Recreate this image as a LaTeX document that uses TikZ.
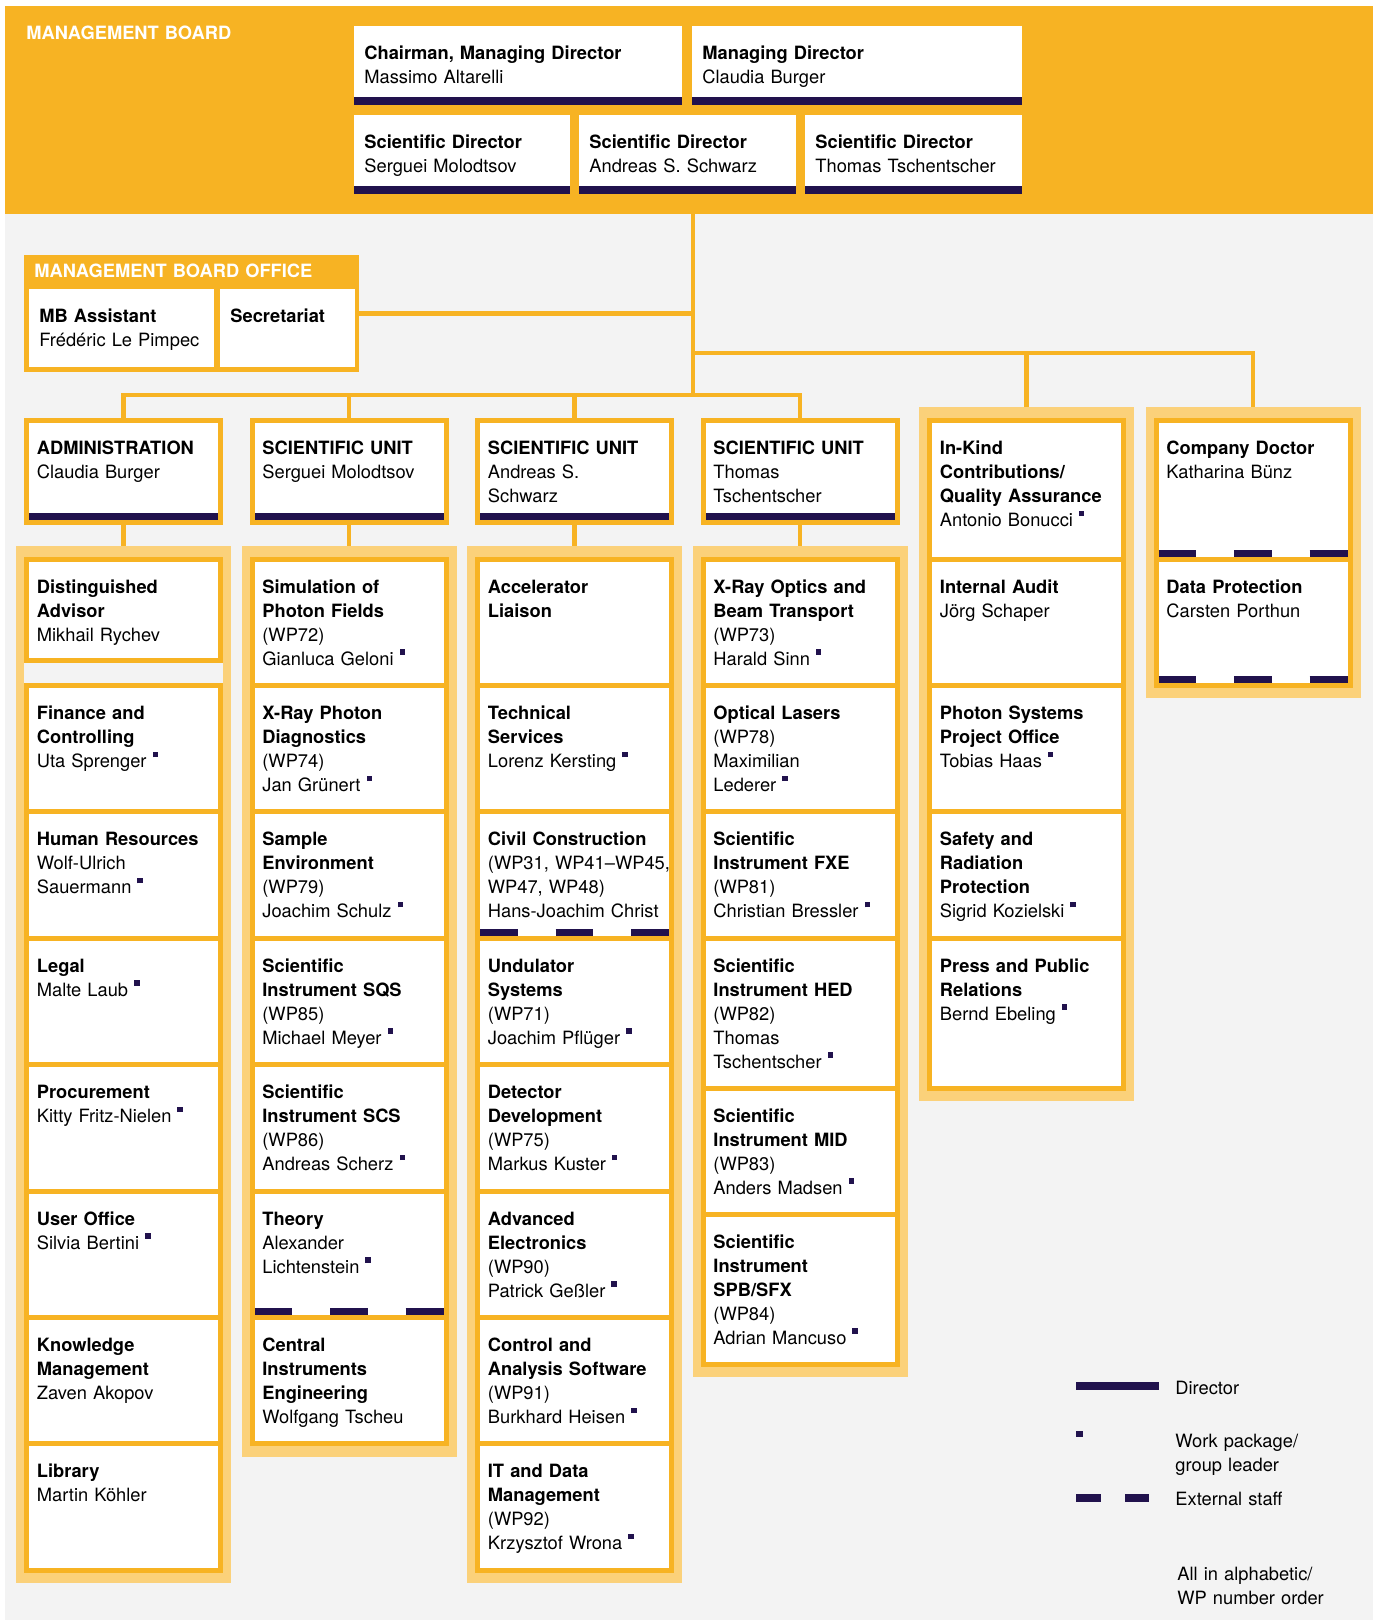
\documentclass[tikz,border=0pt]{standalone}
\usepackage{fontspec}
\setmainfont{TeX Gyre Heros}
\usetikzlibrary{backgrounds, fit, positioning}

\definecolor{xorange}{RGB}{247,179,35}
\definecolor{xlight}{RGB}{251,209,122}
\definecolor{xdark}{RGB}{33,18,77}
\definecolor{xgray}{RGB}{243,243,243}

\newcommand{\wpmark}{\hspace{3pt}\textcolor{xdark}{\rule[5.2pt]{2.7pt}{2.7pt}}}

\begin{document}
\begin{tikzpicture}[x=0.5pt, y=-0.5pt,
		link/.style={draw=xorange, line width=2.3pt},
		cell/.style={draw=xorange, line width=2.5pt, fill=white, minimum width=97pt, inner sep=0, outer sep=0, anchor=north west},
		plain/.style={fill=white, inner sep=0, outer sep=0, anchor=north west},
		celltext/.style={anchor=base west, align=left, text width=200pt, inner sep=0, font=\fontsize{9.15}{12}\selectfont},
		hdtext/.style={celltext, text=white, font=\fontsize{9.15}{12}\selectfont\bfseries},
		colbg/.style={fill=xlight, inner xsep=5.25pt, inner ysep=6.5pt, outer sep=0},
		dirbar/.style={fill=xdark},
		extbar/.style={draw=xdark, line width=3.5pt, dash pattern=on 18.9pt off 18.9pt}]
		\def\orgcell#1#2#3#4{%
			\node[cell, minimum height=#3*0.5pt] (#1) at (#2) {};
			\node[celltext] (#1-t) at ([shift={(10,34)}]#1.north west) {#4};
		}
		\def\boardcell#1#2#3#4{%
			\node[plain, minimum width=#3*0.5pt, minimum height=39.5pt] (#1) at (#2) {};
			\node[celltext] (#1-t) at ([shift={(10,34)}]#1.north west) {#4};
			\fill[dirbar] ([shift={(0,-8)}]#1.south west) rectangle (#1.south east);
		}
		\def\dirline#1{\fill[dirbar] ([shift={(2.5,-9.5)}]#1.south west) rectangle ([shift={(-2.5,-2.5)}]#1.south east);}
		\def\extline#1{\draw[extbar] ([shift={(2.5,-6)}]#1.south west) -- ([shift={(-2.5,-6)}]#1.south east);}

		\useasboundingbox (0,0) rectangle (1373,1620);
		\begin{scope}[on background layer]
			\fill[xgray] (5,214) rectangle (1373,1620);
		\end{scope}

		% management board
		\node[fill=xorange, inner sep=0, outer sep=0, minimum width=684pt, minimum height=104pt, anchor=north west] (board) at (5,6) {};
		\node[hdtext] (board-t) at (26,40) {MANAGEMENT BOARD};
		\boardcell{chair}{354,26}{328}{\textbf{Chairman, Managing Director}\\Massimo Altarelli}
		\boardcell{md}{692,26}{330}{\textbf{Managing Director}\\Claudia Burger}
		\boardcell{sd1}{354,115}{216}{\textbf{Scientific Director}\\Serguei Molodtsov}
		\boardcell{sd2}{579,115}{217}{\textbf{Scientific Director}\\Andreas S. Schwarz}
		\boardcell{sd3}{805,115}{217}{\textbf{Scientific Director}\\Thomas Tschentscher}

		% office
		\node[fill=xorange, inner sep=0, outer sep=0, minimum width=167.5pt, minimum height=58.5pt, anchor=north west] (office) at (24,255) {};
		\node[hdtext] (office-t) at (34,278) {MANAGEMENT BOARD OFFICE};
		\node[plain, minimum width=92.5pt, minimum height=39pt] (mbasst) at (29,289) {};
		\node[celltext] (mbasst-t) at ([shift={(10,34)}]mbasst.north west) {\textbf{MB Assistant}\\Frédéric Le Pimpec};
		\node[plain, minimum width=67.5pt, minimum height=39pt] (secr) at (220,289) {};
		\node[celltext] (secr-t) at ([shift={(10,34)}]secr.north west) {\textbf{Secretariat}};

		% unit heads
		\orgcell{adm}{26.5,420.5}{102}{\textbf{ADMINISTRATION}\\Claudia Burger}
		\orgcell{su1}{252,420.5}{102}{\textbf{SCIENTIFIC UNIT}\\Serguei Molodtsov}
		\orgcell{su2}{477.5,420.5}{102}{\textbf{SCIENTIFIC UNIT}\\Andreas S.\\Schwarz}
		\orgcell{su3}{703,420.5}{102}{\textbf{SCIENTIFIC UNIT}\\Thomas\\Tschentscher}
		\foreach \u in {adm, su1, su2, su3} {\dirline{\u}}

		% administration
		\orgcell{a1}{26.5,559}{101.5}{\textbf{Distinguished\\Advisor}\\Mikhail Rychev}
		\orgcell{a2}{26.5,685.4}{126.4}{\textbf{Finance and\\Controlling}\\Uta Sprenger\wpmark}
		\orgcell{a3}{a2.south west}{126.4}{\textbf{Human Resources}\\Wolf-Ulrich\\Sauermann\wpmark}
		\orgcell{a4}{a3.south west}{126.4}{\textbf{Legal}\\Malte Laub\wpmark}
		\orgcell{a5}{a4.south west}{126.4}{\textbf{Procurement}\\Kitty Fritz-Nielen\wpmark}
		\orgcell{a6}{a5.south west}{126.4}{\textbf{User Office}\\Silvia Bertini\wpmark}
		\orgcell{a7}{a6.south west}{126.4}{\textbf{Knowledge\\Management}\\Zaven Akopov}
		\orgcell{a8}{a7.south west}{126.4}{\textbf{Library}\\Martin Köhler}

		% scientific unit 1
		\orgcell{s1}{252,559}{126.4}{\textbf{Simulation of\\Photon Fields}\\(WP72)\\Gianluca Geloni\wpmark}
		\orgcell{s2}{s1.south west}{126.4}{\textbf{X-Ray Photon\\Diagnostics}\\(WP74)\\Jan Grünert\wpmark}
		\orgcell{s3}{s2.south west}{126.4}{\textbf{Sample\\Environment}\\(WP79)\\Joachim Schulz\wpmark}
		\orgcell{s4}{s3.south west}{126.4}{\textbf{Scientific\\Instrument SQS}\\(WP85)\\Michael Meyer\wpmark}
		\orgcell{s5}{s4.south west}{126.4}{\textbf{Scientific\\Instrument SCS}\\(WP86)\\Andreas Scherz\wpmark}
		\orgcell{s6}{s5.south west}{126.4}{\textbf{Theory}\\Alexander\\Lichtenstein\wpmark}
		\orgcell{s7}{s6.south west}{126.4}{\textbf{Central\\Instruments\\Engineering}\\Wolfgang Tscheu}

		% scientific unit 2
		\orgcell{t1}{477.5,559}{126.4}{\textbf{Accelerator\\Liaison}}
		\orgcell{t2}{t1.south west}{126.4}{\textbf{Technical\\Services}\\Lorenz Kersting\wpmark}
		\orgcell{t3}{t2.south west}{126.4}{\textbf{Civil Construction}\\(WP31, WP41–WP45,\\WP47, WP48)\\Hans-Joachim Christ}
		\orgcell{t4}{t3.south west}{126.4}{\textbf{Undulator\\Systems}\\(WP71)\\Joachim Pflüger\wpmark}
		\orgcell{t5}{t4.south west}{126.4}{\textbf{Detector\\Development}\\(WP75)\\Markus Kuster\wpmark}
		\orgcell{t6}{t5.south west}{126.4}{\textbf{Advanced\\Electronics}\\(WP90)\\Patrick Geßler\wpmark}
		\orgcell{t7}{t6.south west}{126.4}{\textbf{Control and\\Analysis Software}\\(WP91)\\Burkhard Heisen\wpmark}
		\orgcell{t8}{t7.south west}{126.4}{\textbf{IT and Data\\Management}\\(WP92)\\Krzysztof Wrona\wpmark}

		% scientific unit 3
		\orgcell{x1}{703,559}{126.4}{\textbf{X-Ray Optics and\\Beam Transport}\\(WP73)\\Harald Sinn\wpmark}
		\orgcell{x2}{x1.south west}{126.4}{\textbf{Optical Lasers}\\(WP78)\\Maximilian\\Lederer\wpmark}
		\orgcell{x3}{x2.south west}{126.4}{\textbf{Scientific\\Instrument FXE}\\(WP81)\\Christian Bressler\wpmark}
		\orgcell{x4}{x3.south west}{149.8}{\textbf{Scientific\\Instrument HED}\\(WP82)\\Thomas\\Tschentscher\wpmark}
		\orgcell{x5}{x4.south west}{126}{\textbf{Scientific\\Instrument MID}\\(WP83)\\Anders Madsen\wpmark}
		\orgcell{x6}{x5.south west}{150}{\textbf{Scientific\\Instrument\\SPB/SFX}\\(WP84)\\Adrian Mancuso\wpmark}

		% staff units
		\orgcell{k1}{929.5,420.5}{138.5}{\textbf{In-Kind\\Contributions/\\Quality Assurance}\\Antonio Bonucci\wpmark}
		\orgcell{k2}{k1.south west}{126.4}{\textbf{Internal Audit}\\Jörg Schaper}
		\orgcell{k3}{k2.south west}{126.4}{\textbf{Photon Systems\\Project Office}\\Tobias Haas\wpmark}
		\orgcell{k4}{k3.south west}{126.4}{\textbf{Safety and\\Radiation\\Protection}\\Sigrid Kozielski\wpmark}
		\orgcell{k5}{k4.south west}{149.8}{\textbf{Press and Public\\Relations}\\Bernd Ebeling\wpmark}
		\orgcell{d1}{1156,420.5}{138.5}{\textbf{Company Doctor}\\Katharina Bünz}
		\orgcell{d2}{d1.south west}{126.4}{\textbf{Data Protection}\\Carsten Porthun}
		\foreach \e in {s6, t3, d1, d2} {\extline{\e}}

		\begin{scope}[on background layer]
			\node[colbg, fit=(a1)(a8)] (bgadm) {};
			\node[colbg, fit=(s1)(s7)] (bgsu1) {};
			\node[colbg, fit=(t1)(t8)] (bgsu2) {};
			\node[colbg, fit=(x1)(x6)] (bgsu3) {};
			\node[colbg, fit=(k1)(k5)] (bgkind) {};
			\node[colbg, fit=(d1)(d2)] (bgdoc) {};
			\fill[xgray] ([shift={(-2.5,0)}]a1.south west) rectangle ([shift={(2.5,0)}]a2.north east);
		\end{scope}

		% connectors
		\coordinate (trunk) at (693,214);
		\coordinate (hub) at (693,395);
		\coordinate (rjoin) at (693,353);
		\draw[link] (trunk) -- (hub);
		\draw[link] (office.east) -- (office.east -| trunk);
		\draw[link] (rjoin) -| (bgdoc.north);
		\draw[link] (bgkind.north) -- (bgkind.north |- rjoin);
		\draw[link] (adm.north) |- (hub) -| (su3.north);
		\draw[link] (su1.north) -- (su1.north |- hub);
		\draw[link] (su2.north) -- (su2.north |- hub);
		\draw[link] (adm.south) -- (bgadm.north);
		\draw[link] (su1.south) -- (bgsu1.north);
		\draw[link] (su2.south) -- (bgsu2.north);
		\draw[link] (su3.south) -- (bgsu3.north);

		% legend
		\fill[dirbar] (1076,1382) rectangle (1159,1390);
		\node[celltext] (lgdir) at (1175,1394) {Director};
		\fill[dirbar] (1076,1431) rectangle (1082.5,1437);
		\node[celltext] (lgwp) at (1175,1447) {Work package/\\group leader};
		\fill[dirbar] (1076,1494) rectangle (1101,1501.7);
		\fill[dirbar] (1124.5,1494) rectangle (1149,1501.7);
		\node[celltext] (lgext) at (1175,1505) {External staff};
		\node[celltext] (lgnote) at (1177,1580) {All in alphabetic/\\WP number order};
	\end{tikzpicture}
\end{document}
